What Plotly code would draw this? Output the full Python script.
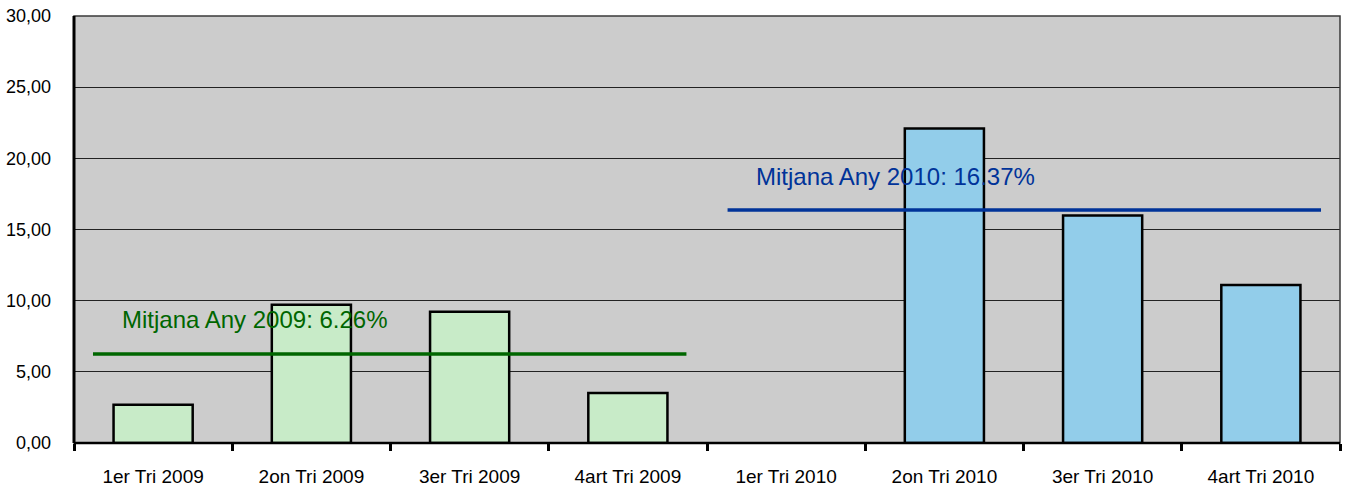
import plotly.graph_objects as go

categories = ["1er Tri 2009", "2on Tri 2009", "3er Tri 2009", "4art Tri 2009",
              "1er Tri 2010", "2on Tri 2010", "3er Tri 2010", "4art Tri 2010"]
values = [2.68, 9.72, 9.23, 3.52, None, 22.1, 15.98, 11.1]
years = [2009, 2009, 2009, 2009, 2010, 2010, 2010, 2010]
avg_2009 = 6.26
avg_2010 = 16.37
avg_labels = ["Mitjana Any 2009: 6.26%", "Mitjana Any 2010: 16.37%"]
y_ticks = [0, 5, 10, 15, 20, 25, 30]

bar_colors = {2009: "#C8EBC8", 2010: "#92CDEA"}
FONT = "Liberation Sans, Arial, sans-serif"

fig = go.Figure()
fig.add_trace(go.Bar(
    x=categories, y=values,
    marker=dict(color=[bar_colors[y] for y in years],
                line=dict(color="black", width=2.5)),
    width=0.5, showlegend=False, hoverinfo="x+y",
))

# average lines
line_specs = [
    (-0.38, 3.37, avg_2009, "#006600", avg_labels[0], -0.21),
    (3.63, 7.38, avg_2010, "#003399", avg_labels[1], 3.80),
]
for x0, x1, yv, col, txt, tx in line_specs:
    fig.add_shape(type="line", xref="x", yref="y", x0=x0, x1=x1, y0=yv, y1=yv,
                  line=dict(color=col, width=3.5), layer="above")
    fig.add_annotation(x=tx, y=yv, xref="x", yref="y", text=txt, showarrow=False,
                       xanchor="left", yanchor="middle", yshift=34,
                       font=dict(family=FONT, size=24, color=col))

# frame
fig.add_shape(type="rect", xref="paper", yref="paper", x0=0, x1=1, y0=0, y1=1,
              line=dict(color="#3a3a3a", width=1.5), layer="above")
fig.add_shape(type="line", xref="paper", yref="paper", x0=0, x1=0, y0=0, y1=1,
              line=dict(color="black", width=3), layer="above")
fig.add_shape(type="line", xref="paper", yref="paper", x0=0, x1=1, y0=0, y1=0,
              line=dict(color="black", width=2.5), layer="above")

fig.update_layout(
    width=1346, height=488,
    margin=dict(l=74, r=6, t=16, b=45, autoexpand=False),
    plot_bgcolor="#CCCCCC", paper_bgcolor="white",
    separators=",.",
    font=dict(family=FONT, size=19, color="black"),
    xaxis=dict(type="category", showgrid=False, ticks="outside", tickson="boundaries",
               ticklen=7, tickwidth=2.5, tickcolor="black", ticklabelstandoff=20,
               tickfont=dict(size=19), range=[-0.5, 7.5], automargin=False),
    yaxis=dict(range=[0, 30], tickvals=y_ticks, tickformat=".2f", showgrid=True,
               gridcolor="#222222", gridwidth=1, zeroline=False, ticks="",
               ticklabelstandoff=22, tickfont=dict(size=18), automargin=False),
    bargap=0.5,
)

fig.write_html("out.html", config={"displayModeBar": False},
               post_script="document.body.style.margin='0';document.body.style.overflow='hidden';")
